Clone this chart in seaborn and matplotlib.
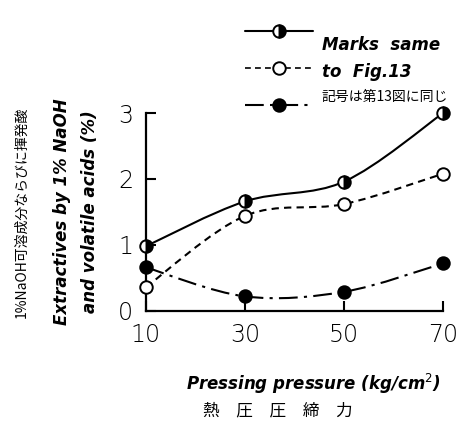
import numpy as np
import pandas as pd
import matplotlib
matplotlib.use("Agg")
import matplotlib.pyplot as plt
from matplotlib.path import Path
from matplotlib.patches import PathPatch
from matplotlib.lines import Line2D
import seaborn as sns

# Pressing pressure (kg/cm2) and extractive yields (%)
pressure = [10, 30, 50, 70]
naoh_extractives = [0.98, 1.66, 1.96, 3.00]
series_open = [0.36, 1.44, 1.62, 2.08]
volatile_acids = [0.66, 0.22, 0.29, 0.72]

x_ticks = [10, 30, 50, 70]
y_ticks = [0, 1, 2, 3]

legend_text = ["Marks  same", "to  Fig.13", "記号は第13図に同じ"]
y_label = "Extractives by 1% NaOH\nand volatile acids (%)"
y_label_ja = "1%NaOH可溶成分ならびに揮発酸"
x_label = "Pressing pressure (kg/cm$^2$)"
x_label_ja = "熱　圧　圧　締　力"

sns.set_theme(style="white")
plt.rcParams["font.family"] = ["DejaVu Sans", "Noto Sans CJK JP"]
plt.rcParams["text.color"] = "black"
plt.rcParams["axes.labelcolor"] = "black"

fig = plt.figure(figsize=(4.66, 4.33), dpi=100)
ax = fig.add_axes([0.313, 0.282, 0.638, 0.457])


def smooth_path(xs, ys):
    """Catmull-Rom curve through the points, as cubic Bezier segments."""
    p = np.column_stack([xs, ys]).astype(float)
    pts = np.vstack([p[0], p, p[-1]])
    verts = [p[0]]
    codes = [Path.MOVETO]
    for i in range(1, len(pts) - 2):
        c1 = pts[i] + (pts[i + 1] - pts[i - 1]) / 6.0
        c2 = pts[i + 1] - (pts[i + 2] - pts[i]) / 6.0
        verts += [c1, c2, pts[i + 1]]
        codes += [Path.CURVE4] * 3
    return Path(verts, codes)


lw = 1.5
ms = 9
styles = [
    (naoh_extractives, "-", dict(fillstyle="right", markerfacecolor="black",
                                 markerfacecoloralt="white")),
    (series_open, (0, (3.5, 2.5)), dict(markerfacecolor="white")),
    (volatile_acids, (0, (9, 3, 1.5, 3)), dict(markerfacecolor="black")),
]

for values, ls, mk in styles:
    ax.add_patch(PathPatch(smooth_path(pressure, values), fill=False,
                           edgecolor="black", lw=lw, linestyle=ls,
                           clip_on=False, zorder=2))
    df = pd.DataFrame({"p": pressure, "v": values})
    sns.lineplot(data=df, x="p", y="v", ax=ax, linestyle="", marker="o",
                 markersize=ms, markeredgecolor="black", markeredgewidth=1.4,
                 color="black", clip_on=False, zorder=3, **mk)

ax.set_xlim(10, 70)
ax.set_ylim(0, 3)
ax.set_xticks(x_ticks)
ax.set_yticks(y_ticks)
ax.set_xticklabels([str(v) for v in x_ticks], fontsize=17, fontweight="light")
ax.set_yticklabels([str(v) for v in y_ticks], fontsize=17, fontweight="light")
ax.tick_params(axis="both", direction="in", length=7, width=1.5,
               colors="black", labelcolor="black", pad=9, left=True,
               bottom=True)
for side in ("top", "right"):
    ax.spines[side].set_visible(False)
for side in ("left", "bottom"):
    ax.spines[side].set_color("black")
    ax.spines[side].set_linewidth(1.6)

ax.set_xlabel(x_label, fontsize=12, fontweight="bold", fontstyle="italic",
              color="black")
ax.xaxis.set_label_coords(0.565, -0.31)
ax.set_ylabel(y_label, fontsize=12, fontweight="bold", fontstyle="italic",
              linespacing=1.7, labelpad=14, color="black")

fig.text(0.047, 0.51, y_label_ja, rotation=90, ha="center", va="center",
         fontsize=10, family=["Noto Sans CJK JP", "DejaVu Sans"])
fig.text(0.597, 0.052, x_label_ja, ha="center", va="center", fontsize=12,
         family=["Noto Sans CJK JP", "DejaVu Sans"])

# Key at the upper right
handles = [
    Line2D([], [], color="black", lw=lw, linestyle="-", marker="o",
           markersize=ms, markeredgecolor="black", markeredgewidth=1.4,
           fillstyle="right", markerfacecolor="black",
           markerfacecoloralt="white"),
    Line2D([], [], color="black", lw=1.2, linestyle=(0, (3.5, 2.5)),
           marker="o", markersize=ms, markeredgecolor="black",
           markeredgewidth=1.4, markerfacecolor="white"),
    Line2D([], [], color="black", lw=lw, linestyle=(0, (9, 3, 1.5, 3)),
           marker="o", markersize=ms, markeredgecolor="black",
           markeredgewidth=1.4, markerfacecolor="black"),
]
fig.legend(handles, ["", "", ""], loc="upper left",
           bbox_to_anchor=(0.51, 0.962), frameon=False, handlelength=4.4,
           labelspacing=1.45, borderpad=0, handletextpad=0)
fig.text(0.69, 0.896, legend_text[0], fontsize=12, fontweight="bold",
         fontstyle="italic", va="center")
fig.text(0.69, 0.834, legend_text[1], fontsize=12, fontweight="bold",
         fontstyle="italic", va="center")
fig.text(0.69, 0.776, legend_text[2], fontsize=10, va="center",
         family=["Noto Sans CJK JP", "DejaVu Sans"])

fig.savefig("out.png", dpi=100)
